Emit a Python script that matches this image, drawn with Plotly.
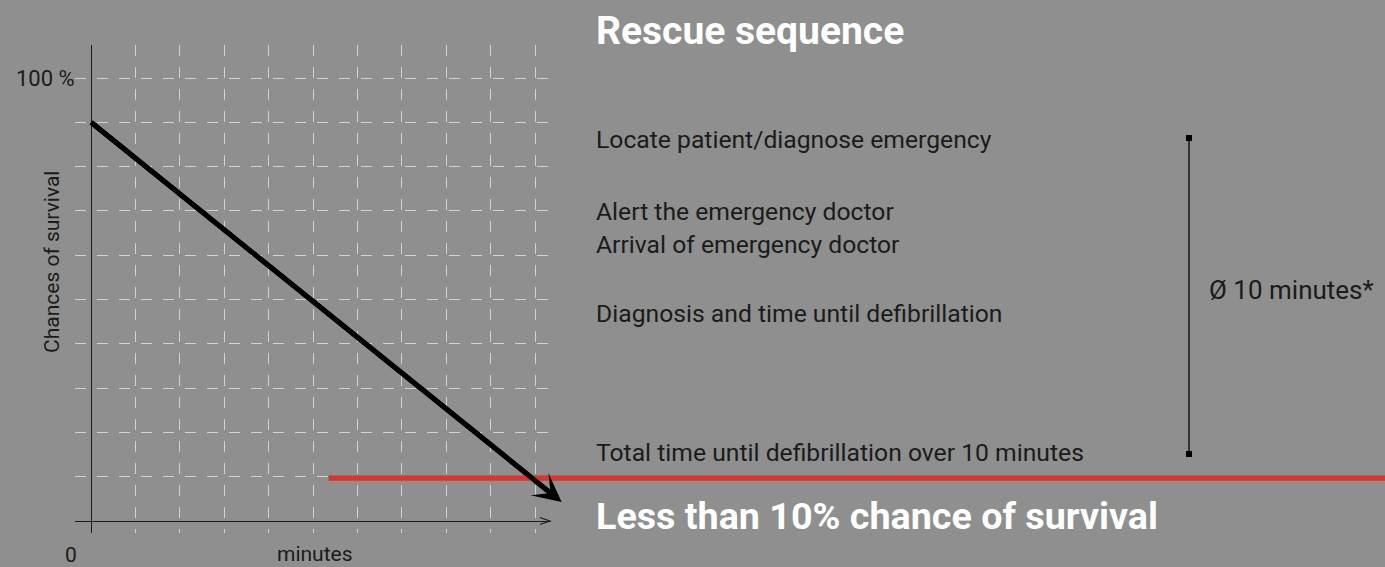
import plotly.graph_objects as go

# ---------------- data ----------------
minutes = [0, 10.6]            # survival curve start / arrow tip (minutes)
survival = [90, 4.3]           # chances of survival (%)
x_grid = list(range(0, 11))    # minute grid
y_grid = list(range(10, 101, 10))
threshold_value = 9.7          # "less than 10 %" line
threshold_start = 5.35         # minute where red line begins

title_text = "Rescue sequence"
steps = [
    "Locate patient/diagnose emergency",
    "Alert the emergency doctor",
    "Arrival of emergency doctor",
    "Diagnosis and time until defibrillation",
    "Total time until defibrillation over 10 minutes",
]
bracket_text = "Ø 10 minutes*"
conclusion_text = "Less than 10% chance of survival"
y_label = "Chances of survival"
x_label = "minutes"
y_top_label = "100 %"
x_zero_label = "0"

# ---------------- layout geometry (pixels) ----------------
FIG_W, FIG_H = 1385, 567
L, R, T, B = 75, 551, 45, 533
W, H = R - L, B - T
X0PX, XSCALE = 91, 44.4      # px of minute 0, px per minute
Y0PX, YSCALE = 521, 4.43     # px of 0 %, px per %

step_y_px = [139, 211, 244, 313, 452]

BG = "#8e8f8e"
INK = "#1b1b1b"
GRID = "#d2d2d2"
RED = "#d9352b"
FONT = "Roboto"


def px_x(px):
    return (px - L) / W


def px_y(py):
    return (B - py) / H


fig = go.Figure()

fig.add_trace(go.Scatter(
    x=minutes, y=survival, mode="lines",
    line=dict(color="black", width=5), hoverinfo="skip", showlegend=False,
))

# red threshold line: inside plot area and continuing to the right edge
fig.add_shape(type="line", xref="x", yref="y",
              x0=threshold_start, x1=x_grid[-1] + 5, y0=threshold_value, y1=threshold_value,
              line=dict(color=RED, width=5.3), layer="above")
fig.add_shape(type="line", xref="paper", yref="y",
              x0=1, x1=4, y0=threshold_value, y1=threshold_value,
              line=dict(color=RED, width=5.3), layer="above")

# x axis arrow chevron
fig.add_shape(type="path", xref="x", yref="y", xsizemode="pixel", ysizemode="pixel",
              xanchor=(550 - X0PX) / XSCALE, yanchor=0,
              path="M-10,3.5 L0,0 L-10,-3.5",
              line=dict(color=INK, width=1.3), layer="above")

annotations = []
# survival arrow
annotations.append(dict(
    x=minutes[-1], y=survival[-1], xref="x", yref="y",
    ax=minutes[0], ay=survival[0], axref="x", ayref="y",
    text="", showarrow=True, arrowhead=3, arrowsize=0.95, arrowwidth=5,
    arrowcolor="black", standoff=0, startstandoff=0,
))

# left chart labels
annotations.append(dict(x=px_x(77), y=px_y(78), xref="paper", yref="paper",
                        text=y_top_label, showarrow=False, xanchor="right", yanchor="middle",
                        font=dict(family=FONT, size=22, color=INK)))
annotations.append(dict(x=px_x(71), y=px_y(555), xref="paper", yref="paper",
                        text=x_zero_label, showarrow=False, xanchor="center", yanchor="middle",
                        font=dict(family=FONT, size=21, color=INK)))
annotations.append(dict(x=px_x(315), y=px_y(554), xref="paper", yref="paper",
                        text=x_label, showarrow=False, xanchor="center", yanchor="middle",
                        font=dict(family=FONT, size=21, color=INK)))
annotations.append(dict(x=px_x(52), y=px_y(262), xref="paper", yref="paper",
                        text=y_label, showarrow=False, xanchor="center", yanchor="middle",
                        textangle=-90, font=dict(family=FONT, size=21, color=INK)))

# right text block
annotations.append(dict(x=px_x(594), y=px_y(31), xref="paper", yref="paper",
                        text="<b>%s</b>" % title_text, showarrow=False,
                        xanchor="left", yanchor="middle",
                        font=dict(family=FONT, size=39, color="white")))
for s, py in zip(steps, step_y_px):
    annotations.append(dict(x=px_x(594), y=px_y(py), xref="paper", yref="paper",
                            text=s, showarrow=False, xanchor="left", yanchor="middle",
                            font=dict(family=FONT, size=24.7, color=INK)))
annotations.append(dict(x=px_x(1207), y=px_y(290), xref="paper", yref="paper",
                        text=bracket_text, showarrow=False, xanchor="left", yanchor="middle",
                        font=dict(family=FONT, size=26, color=INK)))
annotations.append(dict(x=px_x(594), y=px_y(516), xref="paper", yref="paper",
                        text="<b>%s</b>" % conclusion_text, showarrow=False,
                        xanchor="left", yanchor="middle",
                        font=dict(family=FONT, size=37.7, color="white")))

# bracket
fig.add_shape(type="line", xref="paper", yref="paper",
              x0=px_x(1189), x1=px_x(1189), y0=px_y(138), y1=px_y(454),
              line=dict(color="#333333", width=2))
for py in (138, 454):
    fig.add_shape(type="rect", xref="paper", yref="paper",
                  x0=px_x(1186), x1=px_x(1192), y0=px_y(py - 3), y1=px_y(py + 3),
                  fillcolor="black", line=dict(width=0))

fig.update_layout(
    width=FIG_W, height=FIG_H,
    margin=dict(l=L, r=FIG_W - R, t=T, b=FIG_H - B, pad=0),
    paper_bgcolor=BG, plot_bgcolor=BG,
    showlegend=False,
    annotations=annotations,
    xaxis=dict(
        range=[(L - X0PX) / XSCALE, (R - X0PX) / XSCALE],
        tickvals=x_grid, showticklabels=False, ticks="",
        showgrid=True, gridcolor=GRID, gridwidth=1, griddash="11px,11px",
        zeroline=True, zerolinecolor=INK, zerolinewidth=1.3,
        showline=False, fixedrange=True,
    ),
    yaxis=dict(
        range=[(Y0PX - B) / YSCALE, (Y0PX - T) / YSCALE],
        tickvals=y_grid, showticklabels=False, ticks="",
        showgrid=True, gridcolor=GRID, gridwidth=1, griddash="11px,11px",
        zeroline=True, zerolinecolor=INK, zerolinewidth=1.3,
        showline=False, fixedrange=True,
    ),
)

fig.write_html(
    "out.html",
    config={"displayModeBar": False},
    post_script="document.body.style.margin='0';document.body.style.overflow='hidden';",
)
